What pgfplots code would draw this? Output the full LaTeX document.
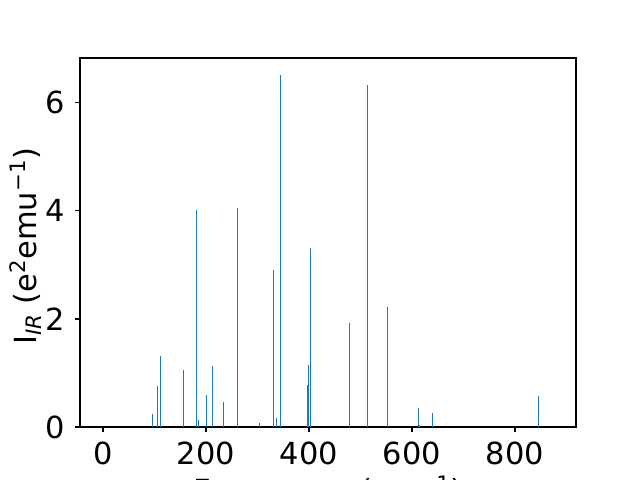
\documentclass[border=0pt]{standalone}
\usepackage{fontspec}
\setmainfont{DejaVu Sans}
\usepackage{pgfplots}
\pgfplotsset{compat=1.18}
\definecolor{mplblue}{HTML}{1F77B4}
\begin{document}
\fontsize{22}{26}\selectfont
\begin{tikzpicture}
\path[use as bounding box] (-57.6bp,-38.16bp) rectangle (403.2bp,307.44bp);
\begin{axis}[
    at={(0,0)}, anchor=south west,
    scale only axis, width=357.12bp, height=265.68bp,
    xmin=-44.7, xmax=918.4, ymin=0, ymax=6.83,
    xtick={0,200,400,600,800}, ytick={0,2,4,6},
    tick align=outside, tick pos=left, major tick length=3.5bp,
    every tick/.style={black, line width=0.8bp},
    axis line style={line width=0.8bp},
    /pgf/number format/assume math mode=true,
    tick label style={font=\fontsize{22}{26}\selectfont},
    label style={font=\fontsize{22}{26}\selectfont},
    xticklabel style={anchor=north, inner sep=0pt, yshift=-7.2bp},
    yticklabel style={anchor=east, inner sep=0pt, xshift=-7.2bp},
    xlabel={Frequency (cm\textsuperscript{−1})},
    ylabel={I\textsubscript{\itshape IR} (e\textsuperscript{2}emu\textsuperscript{−1})},
    xlabel style={at={(axis description cs:0.5,-0.131)}, anchor=north, inner sep=0pt},
    ylabel style={at={(axis description cs:-0.109,0.49)}, anchor=center, inner sep=0pt},
]
\addplot[ycomb, mplblue, line width=0.7bp, mark=none] coordinates {
    (95.7,0.24)
    (105.4,0.76)
    (111.3,1.31)
    (155.9,1.06)
    (181.2,4.02)
    (185.8,0.13)
    (200.6,0.59)
    (212.2,1.13)
    (233.6,0.46)
    (260.8,4.05)
    (303.5,0.07)
    (330.7,2.91)
    (336.5,0.17)
    (344.3,6.52)
    (397.5,0.78)
    (399.4,1.15)
    (402.5,3.31)
    (478.3,1.93)
    (513.2,6.33)
    (552.0,2.22)
    (612.2,0.35)
    (614.2,0.04)
    (639.4,0.26)
    (845.2,0.57)
};
\end{axis}
\end{tikzpicture}
\end{document}
